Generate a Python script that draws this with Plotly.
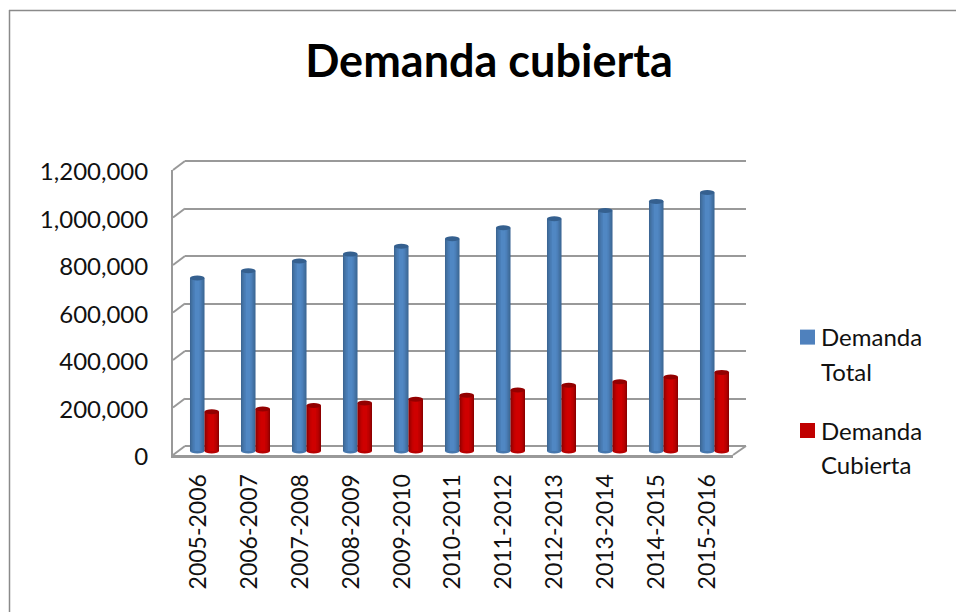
import plotly.graph_objects as go

categories = ["2005-2006", "2006-2007", "2007-2008", "2008-2009", "2009-2010", "2010-2011",
              "2011-2012", "2012-2013", "2013-2014", "2014-2015", "2015-2016"]
demanda_total = [728000, 759000, 800000, 829000, 862000, 894000, 940000, 978000, 1013000, 1051000, 1088000]
demanda_cubierta = [165000, 177000, 192000, 202000, 218000, 235000, 257000, 277000, 292000, 312000, 331000]
y_ticks = [0, 200000, 400000, 600000, 800000, 1000000, 1200000]
legend_lines = [("Demanda", "Total"), ("Demanda", "Cubierta")]

W, H = 956, 612
FONT = "Lato"
TXT = "#111111"
GRID = "#999999"
YMAX = 1200000
PLOT_H = 285
PAD = 4  # px of axis padding so caps and edge gridlines are not clipped

def fx(p):
    return p / W

def fy(p):
    return 1 - p / H

def dom_x(a, b):
    return [fx(a), fx(b)]

def dom_y(bottom, top):
    return [fy(bottom + PAD), fy(top - PAD)]

BLUE = [(0.285, "#3c6595"), (0.25, "#41709f"), (0.20, "#4777ad"), (0.15, "#4b7fb8"), (0.09, "#5087c3")]
RED = [(0.285, "#8c0000"), (0.25, "#a30000"), (0.20, "#b70000"), (0.15, "#c40000"), (0.09, "#cf0000")]
BAR_OFFSET = 0.142
px_val = YMAX / PLOT_H
pad_range = [-PAD * px_val, YMAX + PAD * px_val]

fig = go.Figure()

# legend entries, on the back-wall subplot; second line of each entry has an empty swatch
for (first, second), col, grp in zip(legend_lines, ["#4f81bd", "#c00000"], ["a", "b"]):
    fig.add_trace(go.Scatter(x=[None], y=[None], mode="markers", name=first, legendgroup=grp,
                             marker=dict(symbol="square", size=15, color=col), xaxis="x", yaxis="y"))
    fig.add_trace(go.Scatter(x=[None], y=[None], mode="markers", name=second, legendgroup=grp,
                             marker=dict(symbol="square", size=15, color="rgba(0,0,0,0)"), xaxis="x", yaxis="y"))

shapes = []
for vals, layers, sign, top_col in ((demanda_total, BLUE, -1, "#35608f"), (demanda_cubierta, RED, 1, "#930000")):
    c = sign * BAR_OFFSET
    for w, col in layers:
        fig.add_trace(go.Bar(x=categories, y=vals, width=w, offset=c - w / 2, marker=dict(color=col, line_width=0),
                             showlegend=False, hoverinfo="skip", xaxis="x2", yaxis="y2"))
    bw = layers[0][0]
    for i, v in enumerate(vals):
        shapes.append(dict(type="circle", xref="x2", yref="y2", layer="below", x0=i + c - bw / 2, x1=i + c + bw / 2,
                           y0=-2.5 * px_val, y1=2.5 * px_val, fillcolor=layers[2][1], line_width=0))
        shapes.append(dict(type="circle", xref="x2", yref="y2", layer="above", x0=i + c - bw / 2, x1=i + c + bw / 2,
                           y0=v - 2.5 * px_val, y1=v + 2.5 * px_val, fillcolor=top_col, line_width=0))

fig.add_trace(go.Scatter(x=categories, y=demanda_total, mode="markers", marker=dict(opacity=0), showlegend=False,
                         hoverinfo="skip", xaxis="x3", yaxis="y3"))

# side wall connectors and floor edge, from each tick value to the back wall
front_base, back_base = 455, 446
for t in y_ticks:
    d = t / px_val
    shapes.append(dict(type="line", xref="paper", yref="paper", x0=fx(173), x1=fx(185),
                       y0=fy(front_base - d), y1=fy(back_base - d), line=dict(color=GRID, width=2), layer="below"))
shapes.append(dict(type="line", xref="paper", yref="paper", x0=fx(733), x1=fx(746), y0=fy(front_base),
                   y1=fy(back_base), line=dict(color=GRID, width=2), layer="below"))
# chart frame
shapes.append(dict(type="line", xref="paper", yref="paper", x0=fx(9), x1=1, y0=fy(10.5), y1=fy(10.5),
                   line=dict(color="#8a8a8a", width=1.5)))
shapes.append(dict(type="line", xref="paper", yref="paper", x0=fx(9.5), x1=fx(9.5), y0=fy(10), y1=0,
                   line=dict(color="#8a8a8a", width=1.5)))

hidden = dict(showgrid=False, zeroline=False, showticklabels=False, ticks="", showline=False)

fig.update_layout(
    width=W, height=H, autosize=False, margin=dict(l=0, r=0, t=0, b=0),
    paper_bgcolor="white", plot_bgcolor="rgba(0,0,0,0)",
    font=dict(family=FONT, color=TXT, size=23),
    barmode="overlay", shapes=shapes,
    title=dict(text="<b>Demanda cubierta</b>", x=fx(489), xanchor="center", y=fy(61), yanchor="middle",
               font=dict(family=FONT, size=45, color="#000000")),
    # back wall
    xaxis=dict(domain=dom_x(185, 746), range=[-0.5, 10.5], anchor="y", **hidden),
    yaxis=dict(domain=dom_y(446, 161), range=pad_range, anchor="x", showgrid=True, gridcolor=GRID, gridwidth=2,
               tickvals=y_ticks, zeroline=False, showticklabels=False, ticks="", showline=False),
    # bars, mid depth
    xaxis2=dict(domain=dom_x(179, 740), range=[-0.5, 10.5], anchor="y2", type="category",
                categoryorder="array", categoryarray=categories, **hidden),
    yaxis2=dict(domain=dom_y(451, 166), range=pad_range, anchor="x2", **hidden),
    # front axis
    xaxis3=dict(domain=dom_x(173, 733), range=[-0.5, 10.5], anchor="y3", type="category",
                categoryorder="array", categoryarray=categories, showgrid=False, zeroline=False,
                showline=True, linecolor=GRID, linewidth=3, ticks="", tickangle=-90,
                ticklabelstandoff=7, tickfont=dict(family=FONT, size=23, color=TXT), automargin=False),
    yaxis3=dict(domain=[fy(455), fy(170)], range=[0, YMAX], anchor="x3", showgrid=False, zeroline=False,
                showline=True, linecolor=GRID, linewidth=2, ticks="", tickvals=y_ticks, tickformat=",",
                ticklabelstandoff=18, ticklabelshift=2, tickfont=dict(family=FONT, size=24, color=TXT), automargin=False),
    legend=dict(x=fx(781), y=fy(315), xanchor="left", yanchor="top", bgcolor="rgba(0,0,0,0)",
                tracegroupgap=25, font=dict(family=FONT, size=24, color=TXT), itemsizing="trace"),
)

post = """
document.body.style.margin = '0';
document.querySelectorAll('.legendsymbols').forEach(function (e) { e.setAttribute('transform', 'translate(6.5,0)'); });
"""
fig.write_html("out.html", post_script=post, config={"displayModeBar": False})
